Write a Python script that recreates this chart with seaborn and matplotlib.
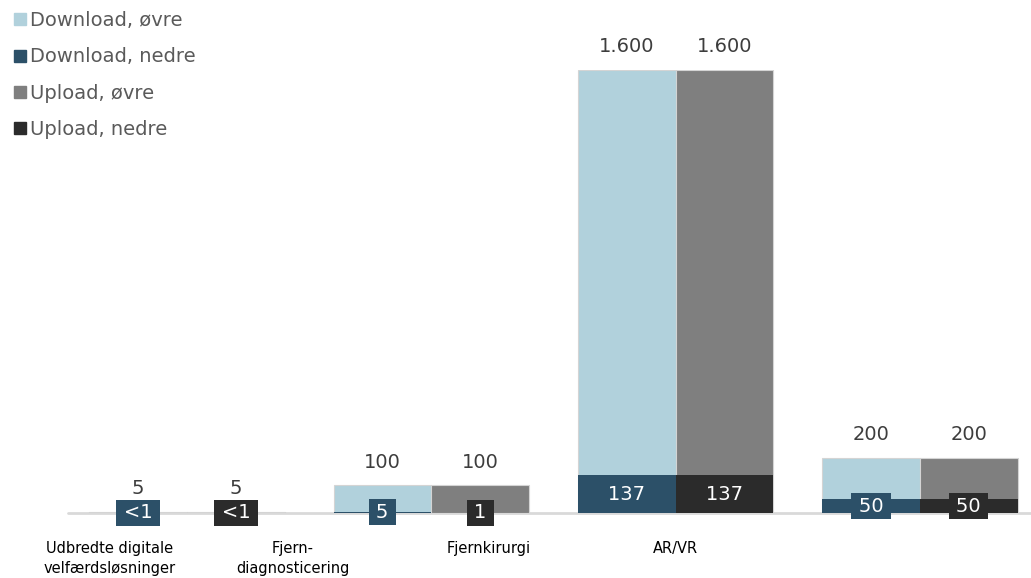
import matplotlib
matplotlib.use("Agg")
import matplotlib.pyplot as plt
from matplotlib.lines import Line2D
import seaborn as sns
import pandas as pd

# Behov for båndbredde pr. anvendelse (Mbit/s)
kategorier = ["Udbredte digitale\nvelfærdsløsninger", "Fjern-\ndiagnosticering",
              "Fjernkirurgi", "AR/VR"]
download_ovre = [5, 100, 1600, 200]
download_nedre = [0.5, 5, 137, 50]
upload_ovre = [5, 100, 1600, 200]
upload_nedre = [0.5, 1, 137, 50]
# Placering af kategoriteksterne på x-aksen (i gruppeenheder)
label_pos = [-0.315, 0.434, 1.236, 1.998]

serier = ["Download", "Upload"]
farve_ovre = {"Download": "#b1d1dc", "Upload": "#7f7f7f"}
farve_nedre = {"Download": "#2c5068", "Upload": "#2b2b2b"}

grupper = [str(i) for i in range(len(kategorier))]
df = pd.DataFrame({
    "gruppe": grupper * 2,
    "serie": ["Download"] * len(grupper) + ["Upload"] * len(grupper),
    "ovre": download_ovre + upload_ovre,
    "nedre": download_nedre + upload_nedre,
})

sns.set_style("white")
plt.rcParams["font.family"] = ["DejaVu Sans"]

fig = plt.figure(figsize=(10.31, 5.78), dpi=100)
ax = fig.add_axes([0.066, 0.1125, 0.934, 0.7666])

sns.barplot(data=df, x="gruppe", y="ovre", hue="serie", order=grupper,
            hue_order=serier, palette=farve_ovre, width=0.8, saturation=1,
            legend=False, edgecolor="#d4d4d4", linewidth=0.8, ax=ax, zorder=2)
n_ovre = len(ax.patches)
sns.barplot(data=df, x="gruppe", y="nedre", hue="serie", order=grupper,
            hue_order=serier, palette=farve_nedre, width=0.8, saturation=1,
            legend=False, linewidth=0, ax=ax, zorder=3)

ovre_bars = ax.patches[:n_ovre]
nedre_bars = ax.patches[n_ovre:]


def fmt(v):
    return f"{v:,.0f}".replace(",", ".")


for bar in ovre_bars:
    h = bar.get_height()
    ax.annotate(fmt(h), (bar.get_x() + bar.get_width() / 2, h),
                xytext=(0, 16.5), textcoords="offset points",
                ha="center", va="center", fontsize=14, color="#3d3d3d",
                annotation_clip=False)

for bar in nedre_bars:
    h = bar.get_height()
    tekst = "<1" if h < 1 else fmt(h)
    ax.text(bar.get_x() + bar.get_width() / 2, h / 2, f"\u2009{tekst}\u2009",
            ha="center", va="center", fontsize=14, color="white", zorder=5,
            bbox=dict(boxstyle="square,pad=0.18", facecolor=bar.get_facecolor(),
                      edgecolor="none"))

ax.axhline(0, color="#d9d9d9", lw=2, zorder=1, clip_on=False)

ax.set_xlim(-0.487, 3.455)
ax.set_ylim(0, 1600)
ax.set_xticks(label_pos)
ax.set_xticklabels(kategorier, fontsize=10.5, color="black", linespacing=1.45)
ax.tick_params(axis="x", length=0, pad=20)
ax.set_yticks([])
ax.set_xlabel("")
ax.set_ylabel("")
for s in ax.spines.values():
    s.set_visible(False)

handles = [
    Line2D([], [], marker="s", ls="none", markersize=8.5, color=farve_ovre["Download"]),
    Line2D([], [], marker="s", ls="none", markersize=8.5, color=farve_nedre["Download"]),
    Line2D([], [], marker="s", ls="none", markersize=8.5, color=farve_ovre["Upload"]),
    Line2D([], [], marker="s", ls="none", markersize=8.5, color=farve_nedre["Upload"]),
]
labels = ["Download, øvre", "Download, nedre", "Upload, øvre", "Upload, nedre"]
fig.legend(handles, labels, loc="upper left", bbox_to_anchor=(0.0, 1.004),
           frameon=False, fontsize=14, labelcolor="#5a5a5a",
           handlelength=0.7, handletextpad=0.15, labelspacing=0.88,
           borderaxespad=0.3)

fig.savefig("out.png", dpi=100)
